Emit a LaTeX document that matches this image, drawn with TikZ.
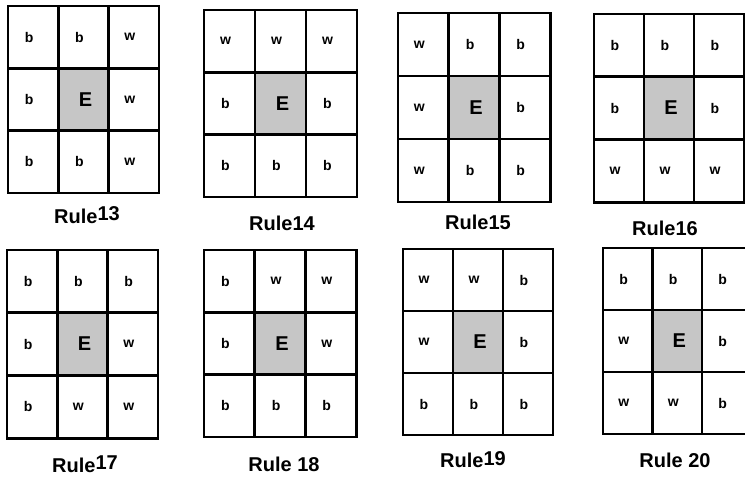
\documentclass[tikz,border=0pt]{standalone}
\usepackage{fontspec}
\setmainfont{Liberation Sans}
\definecolor{egray}{RGB}{198,198,198}
\tikzset{
  gridline/.style={draw=black,line width=2.8pt,line join=miter},
  ecell/.style={fill=egray},
  letter/.style={inner sep=0pt,xshift=-4pt,font=\fontsize{14}{14}\selectfont\bfseries},
  bigletter/.style={inner sep=0pt,xshift=2pt,font=\fontsize{20}{20}\selectfont\bfseries},
  rulelabel/.style={inner sep=0pt,font=\fontsize{20}{20}\selectfont\bfseries}
}
\newcommand\rulegrid[9]{%
  \fill[ecell] ({#2+#4},{#3+#5}) rectangle ({#2+2*#4},{#3+2*#5});
  \foreach \i in {1,2} {
    \draw[gridline] ({#2+\i*#4},#3) -- ({#2+\i*#4},{#3+3*#5});
    \draw[gridline] (#2,{#3+\i*#5}) -- ({#2+3*#4},{#3+\i*#5});
  }
  \draw[gridline] (#2,#3) rectangle ({#2+3*#4},{#3+3*#5});
  \foreach \t [count=\i from 0] in {#6} {
    \pgfmathtruncatemacro\cc{mod(\i,3)}
    \pgfmathtruncatemacro\rr{\i/3}
    \pgfmathsetmacro\px{#2+(\cc+0.5)*#4}
    \pgfmathsetmacro\py{#3+(\rr+0.5)*#5}
    \ifnum\i=4
      \node[bigletter] (#1-\rr-\cc) at (\px,\py) {\textbf{\t}};
    \else
      \node[letter] (#1-\rr-\cc) at (\px,\py) {\textbf{\t}};
    \fi
  }
  \node[rulelabel] (#1-label) at (#7,#8) {\textbf{#9}};
}
\begin{document}
\begin{tikzpicture}[x=1pt,y=-1pt]
\useasboundingbox (0,0) rectangle (745,477);
\rulegrid{g13}{8}{6}{50.3}{62.3}{b,b,w,b,E,w,b,b,w}{87}{215}{Rule\raisebox{3pt}{13}}
\rulegrid{g14}{204}{10}{51}{62.3}{w,w,w,b,E,b,b,b,b}{282}{223}{Rule14}
\rulegrid{g15}{398}{13}{50.7}{63}{w,b,b,w,E,b,w,b,b}{478}{222}{Rule15}
\rulegrid{g16}{594}{14}{50}{62.7}{b,b,b,b,E,b,w,w,w}{665}{228}{Rule16}
\rulegrid{g17}{7}{250}{50.3}{62.7}{b,b,b,b,E,w,b,w,w}{85}{464}{Rule\raisebox{3pt}{17}}
\rulegrid{g18}{204}{250}{50.7}{62.3}{b,w,w,b,E,w,b,b,b}{284}{464}{Rule 18}
\rulegrid{g19}{403}{249}{50}{62}{w,w,b,w,E,b,b,b,b}{473}{460}{Rule\raisebox{2pt}{19}}
\rulegrid{g20}{603}{248}{49.5}{62}{b,b,b,w,E,b,w,w,b}{675}{460}{Rule 20}
\end{tikzpicture}
\end{document}
